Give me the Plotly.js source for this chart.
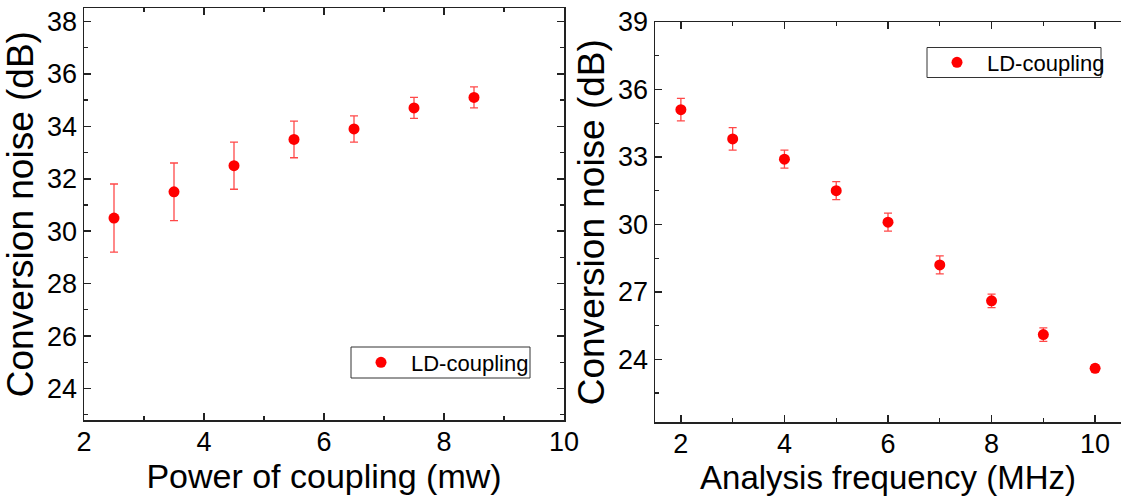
<!DOCTYPE html>
<html>
<head>
<meta charset="utf-8">
<script src="https://cdn.plot.ly/plotly-3.0.1.min.js"></script>
<style>
html,body{margin:0;padding:0;background:#fff;}
#chart{width:1121px;height:497px;}
</style>
</head>
<body>
<div id="chart"></div>
<script>
// Left panel: conversion noise vs power of coupling
const powerCoupling = [2.5, 3.5, 4.5, 5.5, 6.5, 7.5, 8.5];
const noiseVsPower = [30.5, 31.5, 32.5, 33.5, 33.9, 34.7, 35.1];
const errVsPower = [1.3, 1.1, 0.9, 0.7, 0.5, 0.4, 0.4];

// Right panel: conversion noise vs analysis frequency
const analysisFreq = [2, 3, 4, 5, 6, 7, 8, 9, 10];
const noiseVsFreq = [35.1, 33.8, 32.9, 31.5, 30.1, 28.2, 26.6, 25.1, 23.6];
const errVsFreq = [0.5, 0.5, 0.4, 0.4, 0.4, 0.4, 0.3, 0.3, 0.15];

const seriesName = 'LD-coupling';
const leftTicks = [24, 26, 28, 30, 32, 34, 36, 38];
const rightTicks = [24, 27, 30, 33, 36, 39];
const xTicks = [2, 4, 6, 8, 10];

const FONT = 'Liberation Sans, Arial, Helvetica, sans-serif';
const RED = '#ff0000';

const traces = [
  {
    x: powerCoupling, y: noiseVsPower, type: 'scatter', mode: 'markers',
    name: seriesName, xaxis: 'x', yaxis: 'y', legend: 'legend',
    marker: {color: RED, size: 11, symbol: 'circle'},
    error_y: {type: 'data', array: errVsPower, visible: true, color: 'rgba(255,40,40,0.85)', thickness: 1.3, width: 4}
  },
  {
    x: analysisFreq, y: noiseVsFreq, type: 'scatter', mode: 'markers',
    name: seriesName, xaxis: 'x2', yaxis: 'y2', legend: 'legend2',
    marker: {color: RED, size: 11, symbol: 'circle'},
    error_y: {type: 'data', array: errVsFreq, visible: true, color: 'rgba(255,40,40,0.85)', thickness: 1.3, width: 4}
  }
];

const axisCommon = {
  showline: true, linecolor: '#222', linewidth: 1.5,
  ticks: 'inside', ticklen: 7, tickwidth: 1.5, tickcolor: '#222',
  showgrid: false, zeroline: false,
  tickfont: {family: FONT, size: 27, color: '#000'},
  minor: {ticks: 'inside', ticklen: 4, tickwidth: 1.2, tickcolor: '#222', showgrid: false}
};

const legendCommon = {
  xanchor: 'left', yanchor: 'middle',
  borderwidth: 0, bgcolor: 'rgba(0,0,0,0)', itemwidth: 50,
  font: {family: FONT, size: 22, color: '#000'}
};

const layout = {
  width: 1121, height: 497,
  margin: {l: 0, r: 0, t: 0, b: 0},
  paper_bgcolor: '#fff', plot_bgcolor: '#fff',
  font: {family: FONT, color: '#000'},
  showlegend: true,
  xaxis: Object.assign({}, axisCommon, {
    domain: [84/1121, 564/1121], range: [2, 10], tickvals: xTicks,
    mirror: 'allticks', anchor: 'y', ticklabelstandoff: -3,
    minor: Object.assign({}, axisCommon.minor, {dtick: 1, tick0: 0}),
    title: {text: 'Power of coupling (mw)', font: {family: FONT, size: 34, color: '#000'}, standoff: 2}
  }),
  yaxis: Object.assign({}, axisCommon, {
    domain: [1 - 420/497, 1 - 8.3/497], range: [22.8, 38.5], tickvals: leftTicks,
    mirror: 'allticks', anchor: 'x',
    minor: Object.assign({}, axisCommon.minor, {dtick: 1, tick0: 0}),
    title: {text: 'Conversion noise (dB)', font: {family: FONT, size: 37, color: '#000'}, standoff: 2}
  }),
  xaxis2: Object.assign({}, axisCommon, {
    domain: [655/1121, 1], range: [1.5, 10.5], tickvals: xTicks,
    mirror: 'allticks', anchor: 'y2', ticklabelstandoff: -3,
    minor: Object.assign({}, axisCommon.minor, {dtick: 1, tick0: 0}),
    title: {text: 'Analysis frequency (MHz)', font: {family: FONT, size: 33, color: '#000'}, standoff: 2}
  }),
  yaxis2: Object.assign({}, axisCommon, {
    domain: [1 - 422.3/497, 1 - 22/497], range: [21.2, 39], tickvals: rightTicks,
    mirror: false, anchor: 'x2',
    minor: Object.assign({}, axisCommon.minor, {dtick: 1.5, tick0: 0}),
    title: {text: 'Conversion noise (dB)', font: {family: FONT, size: 37, color: '#000'}, standoff: 2}
  }),
  legend: Object.assign({}, legendCommon, {x: 351/1121, y: 1 - 362.5/497}),
  legend2: Object.assign({}, legendCommon, {x: 927/1121, y: 1 - 62.5/497}),
  shapes: [
    {type: 'rect', xref: 'paper', yref: 'paper', x0: 351/1121, x1: 530/1121, y0: 1 - 378/497, y1: 1 - 347/497,
     line: {color: '#333', width: 1}, fillcolor: 'rgba(0,0,0,0)', layer: 'above'},
    {type: 'rect', xref: 'paper', yref: 'paper', x0: 927/1121, x1: 1101/1121, y0: 1 - 77.5/497, y1: 1 - 47.5/497,
     line: {color: '#333', width: 1}, fillcolor: 'rgba(0,0,0,0)', layer: 'above'}
  ]
};

Plotly.newPlot('chart', traces, layout, {staticPlot: true, displayModeBar: false});
</script>
</body>
</html>
